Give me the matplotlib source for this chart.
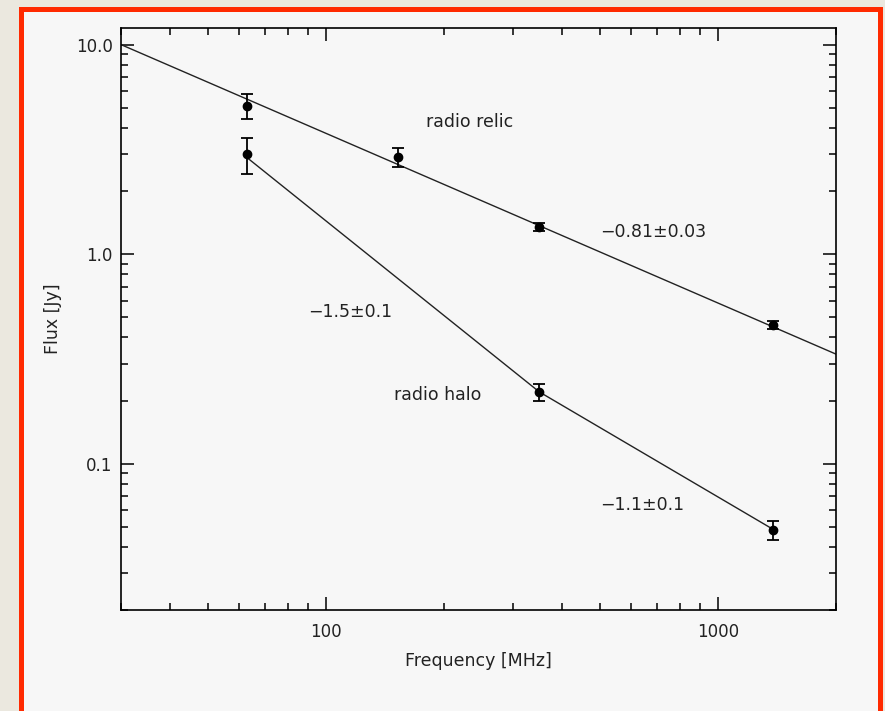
import matplotlib
matplotlib.use("Agg")
import matplotlib.pyplot as plt
import numpy as np
from matplotlib.patches import Rectangle
from matplotlib.ticker import FixedLocator, FixedFormatter, LogLocator, NullFormatter

# measured spectra (MHz, Jy)
relic_freq = [63, 153, 350, 1380]
relic_flux = [5.1, 2.9, 1.35, 0.46]
relic_err = [0.7, 0.3, 0.06, 0.02]

halo_freq = [63, 350, 1380]
halo_flux = [3.0, 0.22, 0.048]
halo_err = [0.6, 0.02, 0.005]

# power-law fits: (nu_start, nu_end, anchor_freq, anchor_flux, index)
relic_fit = (30, 2000, 30, 10.0, -0.81)
halo_fits = [(63, 350, 350, 0.22, -1.5),
             (350, 1380, 350, 0.22, -1.1)]

xticks = [100, 1000]
xticklabels = ["100", "1000"]
yticks = [0.1, 1.0, 10.0]
yticklabels = ["0.1", "1.0", "10.0"]

ink = "#222222"


def power_law(nu0, nu1, nu_a, f_a, alpha):
    nu = np.geomspace(nu0, nu1, 50)
    return nu, f_a * (nu / nu_a) ** alpha


fig = plt.figure(figsize=(8.85, 7.11), dpi=100, facecolor="#ebe8df")
fig.patches.append(Rectangle((0.0232, -0.01), 0.9717, 0.998, transform=fig.transFigure,
                             facecolor="#f7f7f7", edgecolor="#ff2a00", linewidth=3.6,
                             zorder=-10))

ax = fig.add_axes([0.1367, 0.142, 0.8079, 0.8186])
ax.set_facecolor("#f7f7f7")
ax.set_xscale("log")
ax.set_yscale("log")
ax.set_xlim(30, 2000)
ax.set_ylim(0.02, 12.0)

nu, f = power_law(*relic_fit)
ax.plot(nu, f, color=ink, lw=1.0)
for seg in halo_fits:
    nu, f = power_law(*seg)
    ax.plot(nu, f, color=ink, lw=1.0)

err_kw = dict(fmt="o", color="black", ms=6, elinewidth=1.3, capsize=4, capthick=1.3)
ax.errorbar(relic_freq, relic_flux, yerr=relic_err, **err_kw)
ax.errorbar(halo_freq, halo_flux, yerr=halo_err, **err_kw)

txt_kw = dict(fontsize=12.5, color=ink, ha="left", va="center")
ax.text(180, 4.26, "radio relic", **txt_kw)
ax.text(500, 1.27, "\u22120.81\u00b10.03", **txt_kw)
ax.text(90, 0.527, "\u22121.5\u00b10.1", **txt_kw)
ax.text(149, 0.213, "radio halo", **txt_kw)
ax.text(500, 0.0637, "\u22121.1\u00b10.1", **txt_kw)

ax.xaxis.set_major_locator(FixedLocator(xticks))
ax.xaxis.set_major_formatter(FixedFormatter(xticklabels))
ax.xaxis.set_minor_locator(LogLocator(base=10, subs=np.arange(2, 10)))
ax.xaxis.set_minor_formatter(NullFormatter())
ax.yaxis.set_major_locator(FixedLocator(yticks))
ax.yaxis.set_major_formatter(FixedFormatter(yticklabels))
ax.yaxis.set_minor_locator(LogLocator(base=10, subs=np.arange(2, 10)))
ax.yaxis.set_minor_formatter(NullFormatter())

ax.tick_params(which="both", direction="in", top=True, right=True, color="black",
               width=1.1, labelsize=12, labelcolor=ink, pad=9)
ax.tick_params(which="major", length=9.5)
ax.tick_params(which="minor", length=5)
ax.tick_params(axis="y", pad=6)
for sp in ax.spines.values():
    sp.set_linewidth(1.2)

ax.set_xlabel("Frequency [MHz]", fontsize=12.5, color=ink, labelpad=8)
ax.set_ylabel("Flux [Jy]", fontsize=12.5, color=ink, labelpad=10)

fig.savefig("out.png", dpi=100, facecolor=fig.get_facecolor())
